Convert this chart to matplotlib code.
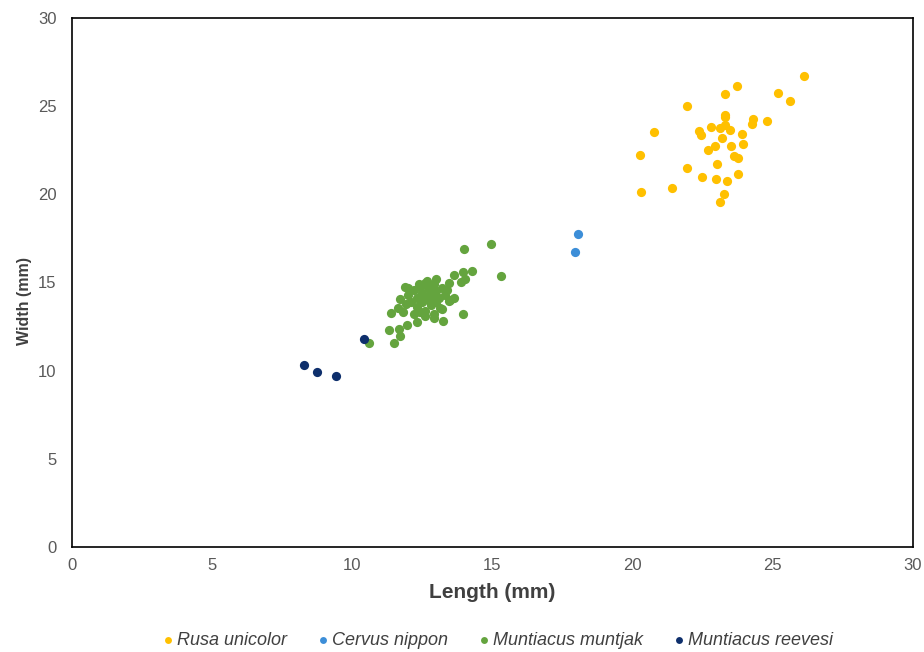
import matplotlib
matplotlib.use("Agg")
import matplotlib.pyplot as plt

plt.rcParams['font.family'] = ['Liberation Sans', 'DejaVu Sans']

# Rusa unicolor
rusa_len = [26.11, 25.17, 25.62, 23.73, 23.28, 21.95, 23.28, 23.30, 24.31, 24.24,
            24.80, 20.75, 22.35, 22.43, 22.81, 23.12, 23.29, 23.46, 23.90, 23.18,
            22.94, 22.67, 23.49, 23.94, 23.61, 23.76, 20.25, 23.01, 21.93, 22.49,
            22.99, 23.38, 23.76, 21.39, 20.28, 23.25, 23.10]
rusa_wid = [26.72, 25.73, 25.32, 26.17, 25.68, 25.01, 24.51, 24.36, 24.28, 24.00,
            24.18, 23.56, 23.61, 23.37, 23.82, 23.77, 23.94, 23.64, 23.41, 23.22,
            22.73, 22.54, 22.76, 22.86, 22.18, 22.05, 22.23, 21.71, 21.51, 21.00,
            20.87, 20.74, 21.14, 20.38, 20.15, 20.02, 19.55]

# Cervus nippon
cervus_len = [18.06, 17.93]
cervus_wid = [17.73, 16.75]

# Muntiacus muntjak
muntjak_len = [14.96, 13.99, 15.32, 14.28, 13.94, 13.63, 14.01, 13.89, 13.44, 13.00,
               12.67, 12.37, 11.87, 13.38, 13.64, 11.69, 13.93, 13.23, 12.93, 12.58,
               12.31, 11.95, 11.65, 11.31, 11.38, 11.62, 11.71, 11.50, 10.58, 13.12,
               13.44,
               12.0, 12.1, 12.2, 12.3, 12.3, 12.4, 12.5, 12.5, 12.6, 12.6,
               12.7, 12.7, 12.8, 12.8, 12.9, 12.9, 13.0, 13.0, 13.1, 13.2,
               13.2, 12.4, 12.2, 11.9, 13.3, 12.0, 12.6, 12.9, 13.5, 11.8]
muntjak_wid = [17.19, 16.89, 15.37, 15.64, 15.60, 15.41, 15.22, 15.03, 14.99, 15.22,
               15.10, 14.90, 14.75, 14.58, 14.11, 14.05, 13.20, 12.84, 12.97, 13.10,
               12.75, 12.59, 12.37, 12.31, 13.26, 13.57, 11.97, 11.55, 11.55, 13.54,
               13.94,
               14.3, 13.9, 14.6, 14.1, 13.6, 14.8, 14.4, 13.9, 14.2, 13.4,
               14.7, 14.0, 14.4, 13.7, 14.9, 14.2, 13.9, 14.5, 14.1, 14.7,
               13.5, 13.3, 13.2, 13.8, 14.3, 14.7, 15.0, 13.2, 14.0, 13.3]

# Muntiacus reevesi
reevesi_len = [10.40, 8.26, 8.74, 9.40]
reevesi_wid = [11.80, 10.31, 9.91, 9.72]

series = [
    ("Rusa unicolor", rusa_len, rusa_wid, "#FFC000"),
    ("Cervus nippon", cervus_len, cervus_wid, "#3C8ED8"),
    ("Muntiacus muntjak", muntjak_len, muntjak_wid, "#64A43E"),
    ("Muntiacus reevesi", reevesi_len, reevesi_wid, "#0E2F6C"),
]

fig = plt.figure(figsize=(9.24, 6.52), dpi=100)
ax = fig.add_axes([72/924, 105/652, 841/924, 529/652])

for name, xs, ys, col in series:
    ax.scatter(xs, ys, s=44, color=col, label=name, linewidths=0, zorder=3)

ax.set_xlim(0, 30)
ax.set_ylim(0, 30)
ax.set_xticks(range(0, 31, 5))
ax.set_yticks(range(0, 31, 5))
ax.tick_params(length=0, labelsize=12, labelcolor="#595959")
ax.tick_params(axis="x", pad=8)
ax.tick_params(axis="y", pad=11)
for sp in ax.spines.values():
    sp.set_color("black")
    sp.set_linewidth(1.2)

ax.set_xlabel("Length (mm)", fontsize=15, fontweight="bold", color="#404040", labelpad=7)
ax.set_ylabel("Width (mm)", fontsize=11.5, fontweight="bold", color="#404040")
ax.yaxis.set_label_coords(-0.048, 0.465)

leg = fig.legend(loc="center", bbox_to_anchor=(0.539, 0.018), ncol=4, frameon=False,
                 prop={"style": "italic", "size": 13}, handlelength=0.6,
                 handletextpad=0.2, columnspacing=1.7, markerscale=0.75)
for t in leg.get_texts():
    t.set_color("#404040")

fig.savefig("out.png", dpi=100)
